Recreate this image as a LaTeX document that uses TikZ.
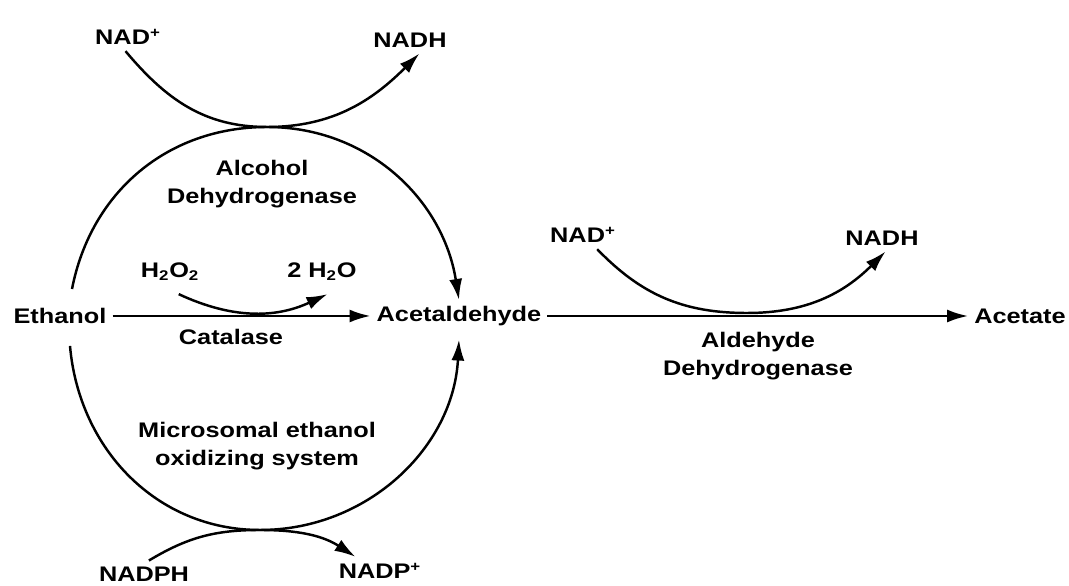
\documentclass[tikz,border=0pt]{standalone}
\usepackage{fontspec}
\setmainfont{Liberation Sans}[FakeStretch=1.2]
\usepackage{tikz}
\usetikzlibrary{arrows.meta,positioning}
\tikzstyle{chem} = [font=\fontsize{12}{15.5}\selectfont\bfseries, align=center]
\tikzstyle{line} = [draw=black, line width=1.4pt, -{Latex[length=0.42cm,width=0.26cm]}]

\begin{document}
\begin{tikzpicture}[node distance=8cm]
	\useasboundingbox (0,0) rectangle (21.38,11.72);
	\node[chem](ethanol) at (1.2,5.4){Ethanol};
	\node[chem, right of=ethanol, node distance=7.98cm](acetaldehyde){Acetaldehyde};
	\node[chem, right of=acetaldehyde, node distance=11.22cm](acetate){Acetate};
	\node[chem](nad) at (2.56,10.98){NAD\textsuperscript{+}};
	\node[chem](nadh) at (8.20,10.92){NADH};
	\node[chem](adh) at (5.24,8.04){Alcohol\\Dehydrogenase};
	\node[chem](hperoxide) at (3.40,6.28){H\textsubscript{2}O\textsubscript{2}};
	\node[chem](water) at (6.44,6.28){2 H\textsubscript{2}O};
	\node[chem](catalase) at (4.62,4.98){Catalase};
	\node[chem](meos) at (5.14,2.80){Microsomal ethanol\\oxidizing system};
	\node[chem](nadph) at (2.88,0.24){NADPH};
	\node[chem](nadp) at (7.60,0.30){NADP\textsuperscript{+}};
	\node[chem](nadtwo) at (11.66,7.02){NAD\textsuperscript{+}};
	\node[chem](nadhtwo) at (17.64,6.96){NADH};
	\node[chem](aldh) at (15.16,4.60){Aldehyde\\Dehydrogenase};
	\coordinate (adhtouch) at (5.34,9.18);
	\coordinate (meostouch) at (5.20,1.12);
	\coordinate (aldhtouch) at (14.94,5.46);

	\path[line](ethanol)      -- (acetaldehyde);
	\path[line](acetaldehyde) -- (acetate);
	\path[line]([shift={(0.24,0.26)}]ethanol.north) to[out=79,in=180] (adhtouch) to[out=0,in=99] (acetaldehyde.north);
	\path[line]([shift={(0.2,-0.32)}]ethanol.south) to[out=-85,in=180] (meostouch) to[out=0,in=-93] ([yshift=-0.15cm]acetaldehyde.south);
	\path[line](nad.-100)     to[out=-50,in=180] (adhtouch) to[out=0,in=-135] (nadh.-55);
	\path[line](nadph.70)     to[out=31,in=180] (meostouch) to[out=0,in=147] (nadp.150);
	\path[line](nadtwo.-45)   to[out=-46,in=180] (aldhtouch) to[out=0,in=-135] (nadhtwo.-75);
	\path[line]([yshift=-0.14cm]hperoxide.-60) to[bend right=25] ([yshift=-0.14cm]water.-70);
\end{tikzpicture}
\end{document}
